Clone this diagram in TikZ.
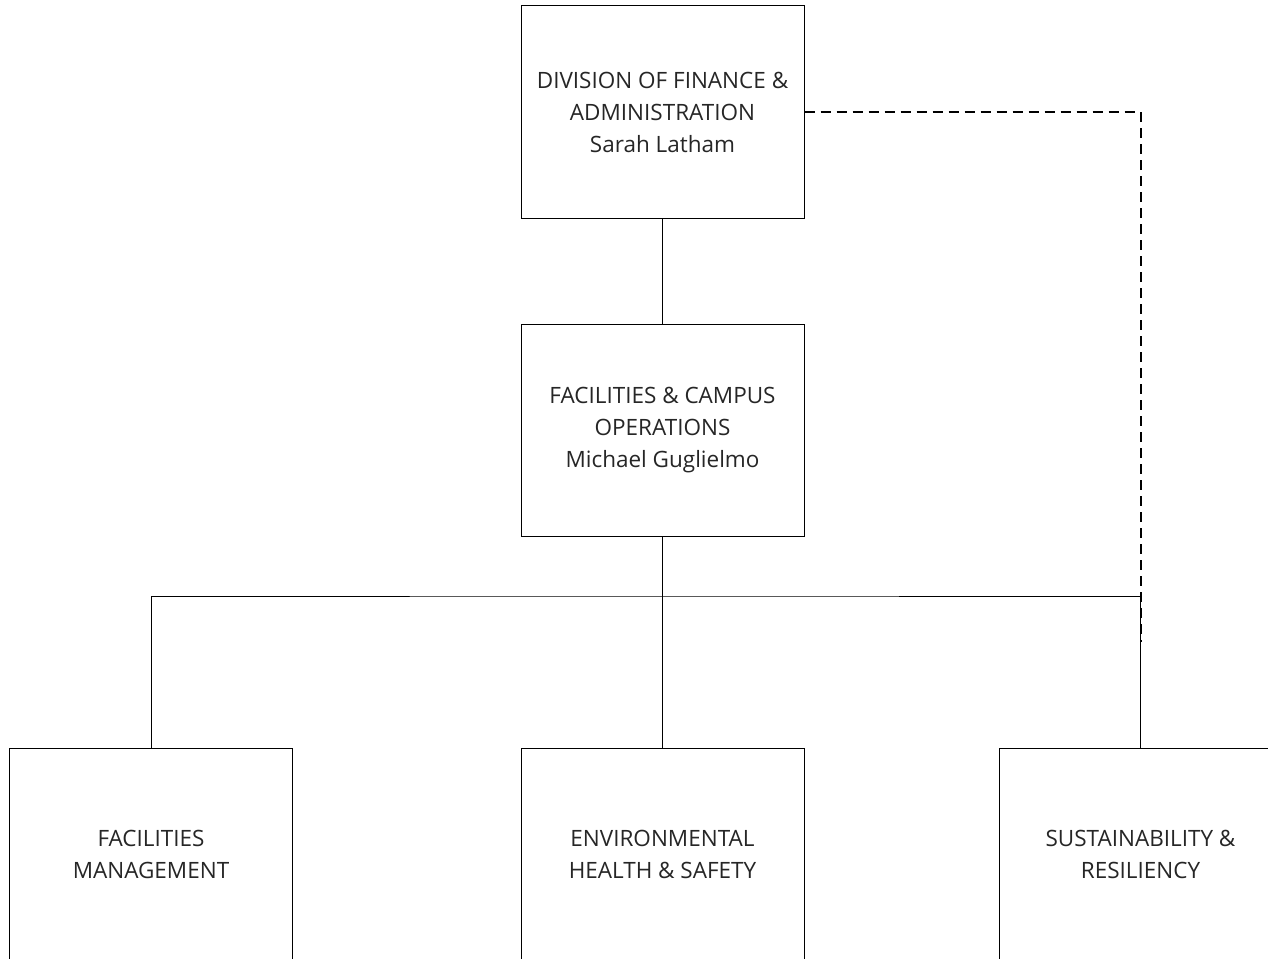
\documentclass[tikz,border=0pt]{standalone}
\usepackage{fontspec}
\setmainfont{Open Sans}
\begin{document}
\begin{tikzpicture}[x=1pt,y=-1pt,
  unit/.style={draw=black,line width=1pt,minimum width=283pt,minimum height=212pt,
    align=center,inner sep=0pt,font=\fontsize{22.5}{32}\selectfont,text=black!85},
  link/.style={draw=black,line width=1pt},
  dotted link/.style={draw=black,line width=2pt,dash pattern=on 10pt off 6pt}]
\useasboundingbox (0,0) rectangle (1268,958);
\clip (0,0) rectangle (1268,958);
\node[unit] (dfa) at (662.5,112) {DIVISION OF FINANCE \&\\ADMINISTRATION\\Sarah Latham};
\node[unit] (fco) at (662.5,430) {FACILITIES \& CAMPUS\\OPERATIONS\\Michael Guglielmo};
\node[unit] (fm) at (151,854) {FACILITIES\\MANAGEMENT};
\node[unit] (ehs) at (662.5,854) {ENVIRONMENTAL\\HEALTH \& SAFETY};
\node[unit] (sr) at (1140.5,854) {SUSTAINABILITY \&\\RESILIENCY};
\coordinate (bus) at (662.5,596);
\coordinate (dend) at (1140.5,642);
\draw[link] (dfa) -- (fco);
\draw[link] (fco.south) -- (ehs.north);
\draw[link] (fm.north) |- (bus) -| (sr.north);
\draw[dotted link] (dfa.east) -| (dend);
\end{tikzpicture}
\end{document}
